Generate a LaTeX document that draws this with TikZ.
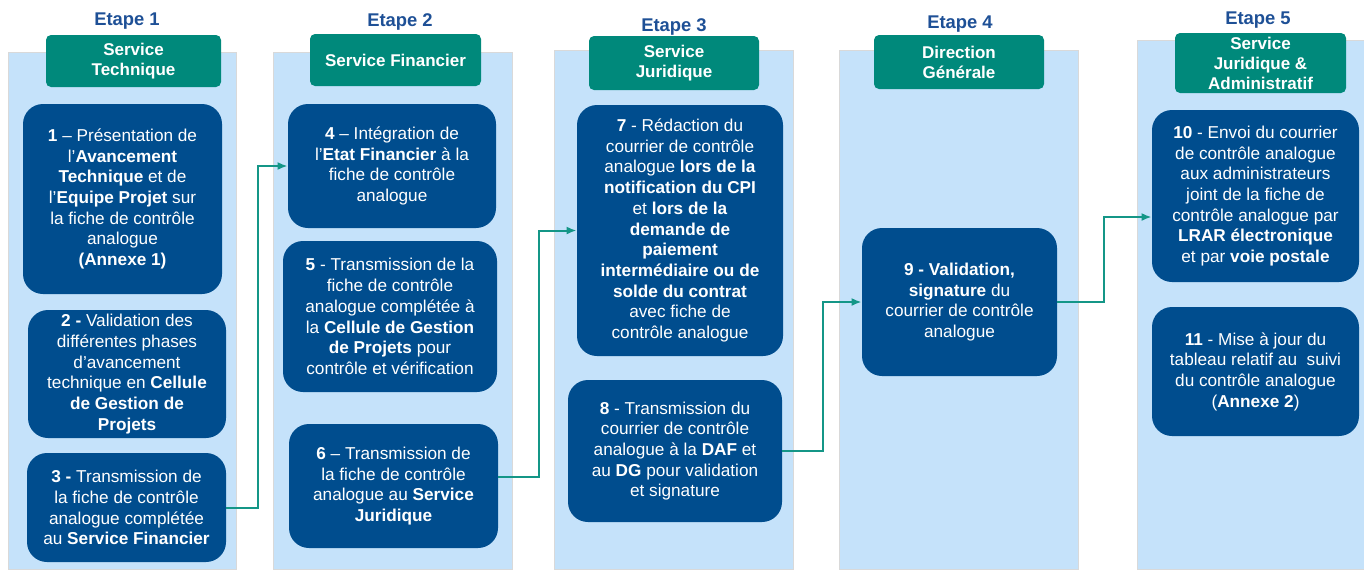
\documentclass[tikz,border=0pt]{standalone}
\usepackage{fontspec}
\setmainfont{Liberation Sans}
\usepackage{tikz}
\usetikzlibrary{arrows.meta,positioning}

\definecolor{lanebg}{RGB}{197,226,250}
\definecolor{taskblue}{RGB}{0,77,142}
\definecolor{headteal}{RGB}{0,137,123}
\definecolor{etapeblue}{RGB}{30,80,150}
\definecolor{flowteal}{RGB}{20,150,135}

\tikzset{
  lane/.style={fill=lanebg, draw=gray!30, line width=0.4pt},
  etape/.style={font=\fontsize{9.2}{11}\selectfont\bfseries, text=etapeblue},
  service/.style={fill=headteal, text=white, rounded corners=2.5pt, align=center,
    inner sep=0pt, font=\fontsize{8.5}{10}\selectfont\bfseries},
  task/.style={fill=taskblue, text=white, rounded corners=10pt, align=center,
    inner sep=0pt, font=\fontsize{8.6}{10.35}\selectfont},
  flow/.style={draw=flowteal, line width=1pt, -{Latex[length=5pt,width=4pt]}},
}

\begin{document}
\begin{tikzpicture}[x=0.5pt, y=-0.5pt]
  \useasboundingbox (0,0) rectangle (1364,569);

  % lanes
  \foreach \xa/\xb/\yt in {8/236/52, 273/512/52, 554/793/50, 839/1078/50, 1137/1364/40}
    \filldraw[lane] (\xa,\yt) rectangle (\xb,569);

  % etapes and services
  \node[etape] (e1) at (127,21) {Etape 1};
  \node[etape] (e2) at (400,22) {Etape 2};
  \node[etape] (e3) at (674,27) {Etape 3};
  \node[etape] (e4) at (960,24) {Etape 4};
  \node[etape] (e5) at (1258,20) {Etape 5};

  \node[service, minimum width=87.5pt, minimum height=26pt] (s1) at (133.5,61) {Service\\Technique};
  \node[service, minimum width=85.5pt, minimum height=26pt] (s2) at (395.5,60) {Service Financier};
  \node[service, minimum width=85pt, minimum height=27pt] (s3) at (674,63) {Service\\Juridique};
  \node[service, minimum width=85pt, minimum height=27pt] (s4) at (959,62) {Direction\\Générale};
  \node[service, minimum width=85.5pt, minimum height=30pt] (s5) at (1260.5,63) {Service\\Juridique \&\\Administratif};

  % etape 1
  \node[task, minimum width=99.5pt, minimum height=95pt] (b1) at (122.5,199)
    {\textbf{1} – Présentation de\\l’\textbf{Avancement}\\\textbf{Technique} et de\\l’\textbf{Equipe Projet} sur\\la fiche de contrôle\\analogue\\\textbf{(Annexe 1)}};
  \node[task, minimum width=99pt, minimum height=64pt] (b2) at (127,374)
    {\textbf{2 -} Validation des\\différentes phases\\d’avancement\\technique en \textbf{Cellule}\\\textbf{de Gestion de}\\\textbf{Projets}};
  \node[task, minimum width=99.5pt, minimum height=54.5pt] (b3) at (126.5,507.5)
    {\textbf{3 -} Transmission de\\la fiche de contrôle\\analogue complétée\\au \textbf{Service Financier}};

  % etape 2
  \node[task, minimum width=104pt, minimum height=62pt] (b4) at (392,166)
    {\textbf{4} – Intégration de\\l’\textbf{Etat Financier} à la\\fiche de contrôle\\analogue};
  \node[task, minimum width=107pt, minimum height=75.5pt] (b5) at (390,316.5)
    {\textbf{5} - Transmission de la\\fiche de contrôle\\analogue complétée à\\la \textbf{Cellule de Gestion}\\\textbf{de Projets} pour\\contrôle et vérification};
  \node[task, minimum width=104.5pt, minimum height=62pt] (b6) at (393.5,486)
    {\textbf{6} – Transmission de\\la fiche de contrôle\\analogue au \textbf{Service}\\\textbf{Juridique}};

  % etape 3
  \node[task, minimum width=103pt, minimum height=125.5pt] (b7) at (680,230.5)
    {\textbf{7} - Rédaction du\\courrier de contrôle\\analogue \textbf{lors de la}\\\textbf{notification du CPI}\\et \textbf{lors de la}\\\textbf{demande de}\\\textbf{paiement}\\\textbf{intermédiaire ou de}\\\textbf{solde du contrat}\\avec fiche de\\contrôle analogue};
  \node[task, minimum width=107pt, minimum height=71pt] (b8) at (675,451)
    {\textbf{8} - Transmission du\\courrier de contrôle\\analogue à la \textbf{DAF} et\\au \textbf{DG} pour validation\\et signature};

  % etape 4
  \node[task, minimum width=97.5pt, minimum height=74pt] (b9) at (959.5,302)
    {\textbf{9 - Validation,}\\\textbf{signature} du\\courrier de contrôle\\analogue};

  % etape 5
  \node[task, minimum width=103.5pt, minimum height=86pt] (b10) at (1255.5,196)
    {\textbf{10} - Envoi du courrier\\de contrôle analogue\\aux administrateurs\\joint de la fiche de\\contrôle analogue par\\\textbf{LRAR électronique}\\et par \textbf{voie postale}};
  \node[task, minimum width=103.5pt, minimum height=64.5pt] (b11) at (1255.5,371.5)
    {\textbf{11} - Mise à jour du\\tableau relatif au\ \ suivi\\du contrôle analogue\\(\textbf{Annexe 2})};

  % flows
  \draw[flow] (b3.east) -- ++(32,0) |- (b4.west);
  \draw[flow] ([yshift=4.5pt]b6.east) -- ++(41,0) |- (b7.west);
  \draw[flow] (b8.east) -- ++(41,0) |- (b9.west);
  \draw[flow] (b9.east) -- ++(47,0) |- ([yshift=-10.5pt]b10.west);
\end{tikzpicture}
\end{document}
